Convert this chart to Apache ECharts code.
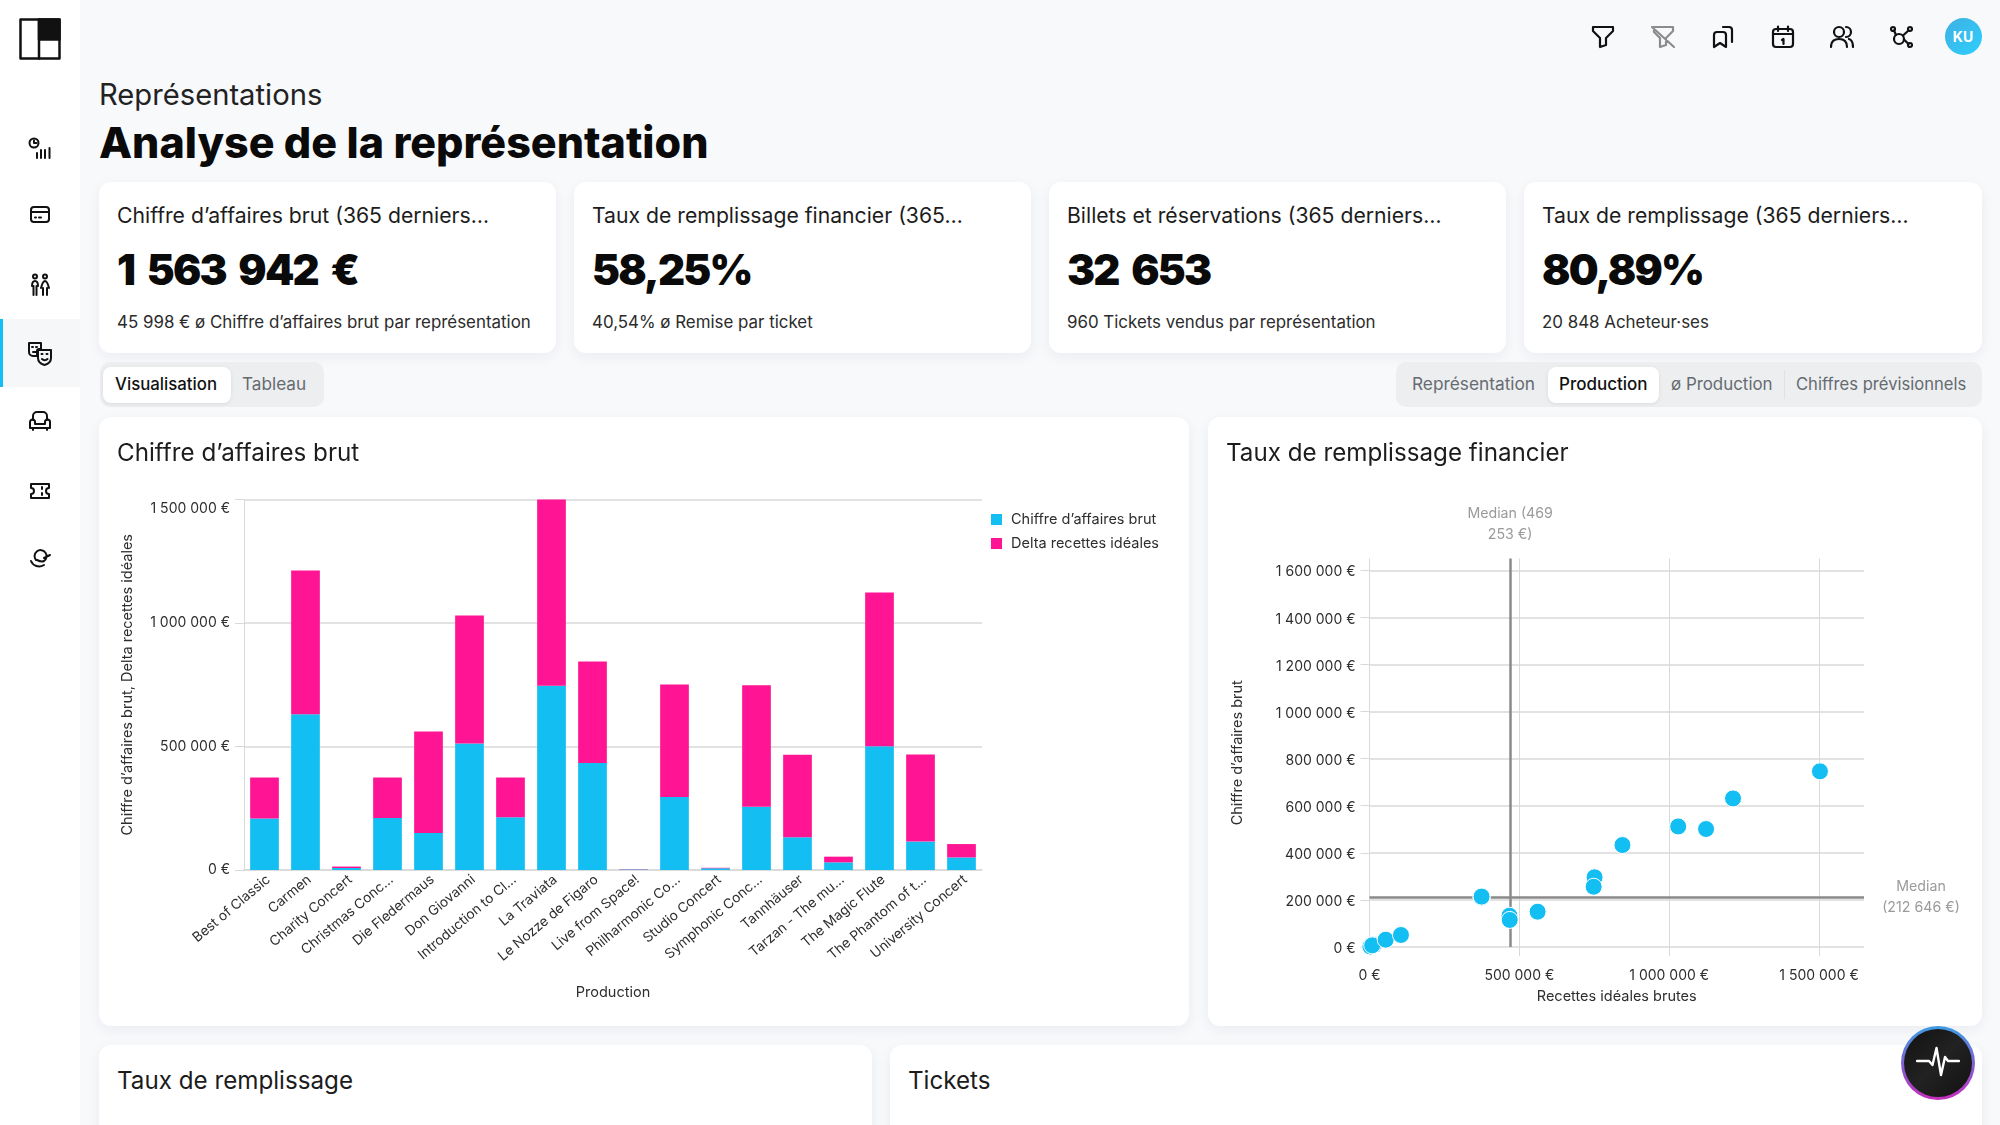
<![CDATA[<!DOCTYPE html>
<html lang="fr"><head><meta charset="utf-8"><title>Analyse de la représentation</title>
<script src="https://cdn.jsdelivr.net/npm/echarts@6/dist/echarts.min.js"></script>
<style>
html,body{margin:0;padding:0;width:2000px;height:1125px;overflow:hidden;background:#f8f9fb;font-family:Inter,sans-serif;color:#111}
.a{position:absolute;white-space:nowrap}
.card{position:absolute;background:#fff;border-radius:12px;box-shadow:0 4px 14px rgba(30,40,60,.06)}
.ct{position:absolute;font-size:21.2px;line-height:30px;color:#1c1c1c;white-space:nowrap}
.kv{position:absolute;font-size:42px;font-weight:900;letter-spacing:-1.8px;word-spacing:6px;line-height:56px;color:#0a0a0a;white-space:nowrap}
.ks{position:absolute;font-size:16.9px;line-height:24px;color:#2b2b2b;white-space:nowrap}
.pill{position:absolute;background:#eceef0;border-radius:10px;top:362px;height:45px}
.on{position:absolute;background:#fff;border-radius:8px;top:367px;height:36px;box-shadow:0 1px 4px rgba(0,0,0,.08)}
.t{position:absolute;top:372px;font-size:16.8px;line-height:24px;color:#666b70;white-space:nowrap}
.t.s{color:#111;font-weight:500}
.h2{position:absolute;font-size:24.2px;line-height:34px;color:#1c1c1c;white-space:nowrap}
svg.i{position:absolute;fill:none;stroke:#111;stroke-width:2;stroke-linecap:round;stroke-linejoin:round}
</style></head><body>
<div class="a" style="left:0;top:0;width:80px;height:1125px;background:#fff"></div>
<div class="a" style="left:0;top:319px;width:80px;height:68px;background:#f6f7f9"></div>
<div class="a" style="left:0;top:319px;width:3px;height:68px;background:#13bef2"></div>
<svg class="i" style="left:19px;top:18px;stroke-width:2.5" width="42" height="42" viewBox="0 0 42 42"><rect x="1.5" y="1.5" width="39" height="39" fill="#fff"/><rect x="20" y="1.5" width="20.5" height="20" fill="#111"/><path d="M20 1.5V40.5"/></svg>
<svg class="i" style="left:28px;top:137px" width="24" height="24" viewBox="0 0 24 24"><circle cx="6" cy="6" r="4.5"/><path d="M6 3.5V6H8.5M9 21v-5M13 21v-8M17 21v-8M21.500 21V11" /></svg>
<svg class="i" style="left:28px;top:203px" width="24" height="24" viewBox="0 0 24 24"><rect x="3" y="4" width="18" height="15" rx="3"/><path d="M3 9H21M7 14.500h1M11 14.500h2"/></svg>
<svg class="i" style="left:28px;top:273px" width="24" height="24" viewBox="0 0 24 24"><circle cx="7" cy="3.500" r="2"/><circle cx="17" cy="3.500" r="2"/><path d="M4 13c0-3 1-5 3-5s3 2 3 5M5.500 13v9M8.500 13v9M13 15c1-4 2-7 4-7s3 3 4 7M15 15v7M19 15v7"/></svg>
<svg class="i" style="left:27px;top:340px" width="26" height="26" viewBox="0 0 26 26"><path d="M2 3h12v6h-2a2 2 0 0 0-2 2v5H6a4 4 0 0 1-4-4z"/><path d="M11 10h13v8c0 4-3 6-6.500 7C14 24 11 22 11 18z"/><path d="M5 7h1M9 7h1M6 12h3M14.500 14h1M19.500 14h1M15 19c1.500 1.500 4 1.500 5.500 0"/></svg>
<svg class="i" style="left:28px;top:409px" width="24" height="24" viewBox="0 0 24 24"><path d="M5 11V7a4 4 0 0 1 4-4h6a4 4 0 0 1 4 4v4"/><path d="M2 13a2.500 2.500 0 0 1 5 0v2h10v-2a2.500 2.500 0 0 1 5 0v6H2zM5 19v2M19 19v2"/></svg>
<svg class="i" style="left:28px;top:479px" width="24" height="24" viewBox="0 0 24 24"><path d="M3 5h18v4a3 3 0 0 0 0 6v4H3v-4a3 3 0 0 0 0-6zM14 8v2M14 14v2"/></svg>
<svg class="i" style="left:28px;top:547px" width="24" height="24" viewBox="0 0 24 24"><path d="M3 14c2 5 8 7 13 4M8 13a6 6 0 1 1 8 1c-2 1-5 0-7-1M16 11l6-3"/></svg>

<svg class="i" style="left:1591px;top:25px;stroke-width:2.200" width="24" height="24" viewBox="0 0 24 24"><path d="M2 2H22V6L15 13V20L9 22V13L2 6z"/></svg>
<svg class="i" style="left:1651px;top:25px;stroke:#8c8c8c;stroke-width:2.200" width="24" height="24" viewBox="0 0 24 24"><path d="M3 2H22V6L15 13V20L9 22V13L3 7zM1 2L23 22"/></svg>
<svg class="i" style="left:1711px;top:25px;stroke-width:2.200" width="24" height="24" viewBox="0 0 24 24"><path d="M3 10a3 3 0 0 1 3-3h6a3 3 0 0 1 3 3v12l-6-4-6 4zM12 2h6a3 3 0 0 1 3 3v12"/></svg>
<svg class="i" style="left:1771px;top:25px;stroke-width:2.200" width="24" height="24" viewBox="0 0 24 24"><rect x="2" y="4" width="20" height="18" rx="3"/><path d="M2 9H22M7 1.500V6M17 1.500V6M11 15l1.500-1v5"/></svg>
<svg class="i" style="left:1830px;top:25px;stroke-width:2.200" width="24" height="24" viewBox="0 0 24 24"><circle cx="9" cy="7" r="5"/><path d="M1 22c0-5 3-8 8-8s8 3 8 8M16 2a5 5 0 0 1 0 10M19 14c3 1 4 4 4 8"/></svg>
<svg class="i" style="left:1889px;top:25px;stroke-width:2.200" width="24" height="24" viewBox="0 0 24 24"><circle cx="10" cy="14" r="5"/><circle cx="4" cy="4" r="2"/><circle cx="21" cy="4" r="2"/><circle cx="21" cy="20" r="2"/><path d="M5 5.500L7 10M19.500 5.500L14 10.500M15 14.500L19.500 19"/></svg>
<div class="a" style="left:1944.500px;top:17.500px;width:37px;height:37px;border-radius:50%;background:linear-gradient(135deg,#3fb0e3,#2dcffc);color:#fff;font-size:14px;font-weight:700;line-height:37px;text-align:center">KU</div>

<div class="a" style="left:99px;top:75px;font-size:29.2px;line-height:40px;color:#222">Représentations</div>
<div class="a" style="left:99px;top:115px;font-size:43px;line-height:54px;font-weight:800;color:#0a0a0a">Analyse de la représentation</div>

<div class="card" style="left:99px;top:182px;width:457px;height:171px"></div>
<div class="ct" style="left:117px;top:199.500px">Chiffre d’affaires brut (365 derniers…</div>
<div class="kv" style="left:117px;top:242px">1 563 942 €</div>
<div class="ks" style="left:117px;top:309.500px">45 998 € ø Chiffre d’affaires brut par représentation</div>
<div class="card" style="left:574px;top:182px;width:457px;height:171px"></div>
<div class="ct" style="left:592px;top:199.500px">Taux de remplissage financier (365…</div>
<div class="kv" style="left:592px;top:242px">58,25%</div>
<div class="ks" style="left:592px;top:309.500px">40,54% ø Remise par ticket</div>
<div class="card" style="left:1049px;top:182px;width:457px;height:171px"></div>
<div class="ct" style="left:1067px;top:199.500px">Billets et réservations (365 derniers…</div>
<div class="kv" style="left:1067px;top:242px">32 653</div>
<div class="ks" style="left:1067px;top:309.500px">960 Tickets vendus par représentation</div>
<div class="card" style="left:1524px;top:182px;width:458px;height:171px"></div>
<div class="ct" style="left:1542px;top:199.500px">Taux de remplissage (365 derniers…</div>
<div class="kv" style="left:1542px;top:242px">80,89%</div>
<div class="ks" style="left:1542px;top:309.500px">20 848 Acheteur·ses</div>

<div class="pill" style="left:100px;width:224px"></div>
<div class="on" style="left:103px;width:128px"></div>
<div class="t s" style="left:115px">Visualisation</div>
<div class="t" style="left:242px;font-size:17.2px">Tableau</div>
<div class="pill" style="left:1396px;width:586px"></div>
<div class="on" style="left:1548px;width:111px"></div>
<div class="t" style="left:1412px;font-size:17.3px">Représentation</div>
<div class="t s" style="left:1559px;font-size:17px">Production</div>
<div class="t" style="left:1671px;font-size:16.9px">ø Production</div>
<div class="a" style="left:1784px;top:370px;width:1px;height:29px;background:#dfe1e4"></div>
<div class="t" style="left:1796px;font-size:16.6px">Chiffres prévisionnels</div>

<div class="card" style="left:99px;top:417px;width:1090px;height:609px"></div>
<div class="card" style="left:1208px;top:417px;width:774px;height:609px"></div>
<div id="chartA" class="a" style="left:99px;top:417px;width:1090px;height:609px"></div>
<div id="chartB" class="a" style="left:1208px;top:417px;width:774px;height:609px"></div>
<div class="h2" style="left:117px;top:436px">Chiffre d’affaires brut</div>
<div class="h2" style="left:1226px;top:436px">Taux de remplissage financier</div>

<div class="card" style="left:99px;top:1045px;width:773px;height:120px"></div>
<div class="card" style="left:890px;top:1045px;width:1092px;height:120px"></div>
<div class="h2" style="left:117px;top:1064px">Taux de remplissage</div>
<div class="h2" style="left:908px;top:1064px">Tickets</div>

<div class="a" style="left:1901px;top:1026px;width:74px;height:74px;border-radius:50%;background:linear-gradient(180deg,#3a9ce4,#c62cbd)"></div>
<div class="a" style="left:1904px;top:1029px;width:68px;height:68px;border-radius:50%;background:linear-gradient(135deg,#111,#222 50%,#111)"></div>
<svg class="i" style="left:1916px;top:1046px;stroke:#fff;stroke-width:2.400" width="44" height="34" viewBox="0 0 44 34"><path d="M1 15H13L16.500 19 20.500 2 25 29 29 11 32 15H43"/></svg>

<script>
const categories = ["Best of Classic","Carmen","Charity Concert","Christmas Conc…","Die Fledermaus","Don Giovanni","Introduction to Cl…","La Traviata","Le Nozze de Figaro","Live from Space!","Philharmonic Co…","Studio Concert","Symphonic Conc…","Tannhäuser","Tarzan - The mu…","The Magic Flute","The Phantom of t…","University Concert"];
const grossRevenue = [209000,631000,8000,211000,150000,512000,214000,746000,433000,2000,296000,7000,256000,133000,31000,501000,115000,51000];
const idealRevenue = [374000,1213000,14000,374000,561000,1030000,374000,1503000,844000,3000,751000,9000,748000,467000,54000,1123000,468000,105000];
const idealDelta = [165000,582000,6000,163000,411000,518000,160000,757000,411000,1000,455000,2000,492000,334000,23000,622000,353000,54000];
const barYTicks = [0,500000,1000000,1500000];
const scatterXTicks = [0,500000,1000000,1500000];
const scatterYTicks = [0,200000,400000,600000,800000,1000000,1200000,1400000,1600000];
const medianX = 469253;
const medianY = 212646;

const FONT = 'Inter, sans-serif';
const BLUE = '#13bef2', PINK = '#ff1493', GRID = '#d9d9d9', TXT = '#2e2e2e';
const eur = v => String(v).replace(/\B(?=(\d{3})+$)/g,'\u00a0') + ' €';

const chartA = echarts.init(document.getElementById('chartA'), null, {renderer:'canvas'});
chartA.setOption({
  animation:false, textStyle:{fontFamily:FONT},
  legend:{orient:'vertical', left:887, top:90, itemWidth:11, itemHeight:11, itemGap:9, icon:'rect',
    textStyle:{fontFamily:FONT,fontSize:14.5,color:TXT,padding:[0,0,0,4]}},
  grid:{left:145, right:207, top:82.5, bottom:156},
  xAxis:{type:'category', data:categories, name:'Production', nameLocation:'middle', nameGap:115,
    nameTextStyle:{fontFamily:FONT,fontSize:14.5,color:TXT},
    axisLabel:{interval:0, rotate:40, margin:11, fontSize:13.7, color:TXT, fontFamily:FONT, padding:[0,-5,0,0]},
    axisTick:{show:false}, axisLine:{lineStyle:{color:GRID,width:1.5}}},
  yAxis:{type:'value', min:0, max:1500000, interval:500000, name:'Chiffre d’affaires brut, Delta recettes idéales',
    nameLocation:'middle', nameGap:109, nameRotate:90, nameTextStyle:{fontFamily:FONT,fontSize:14.5,color:TXT},
    axisLabel:{formatter:eur, margin:14, fontSize:14, color:TXT, fontFamily:FONT, verticalAlignMaxLabel:'top', padding:[2,0,0,0], customValues:barYTicks},
    axisTick:{show:true,length:9,lineStyle:{color:GRID}}, axisLine:{show:true,lineStyle:{color:GRID,width:1}},
    splitLine:{show:true,lineStyle:{color:GRID,width:1.5}}},
  series:[
    {name:'Chiffre d’affaires brut', type:'bar', stack:'t', barWidth:'70%', data:grossRevenue, itemStyle:{color:BLUE}},
    {name:'Delta recettes idéales', type:'bar', stack:'t', barWidth:'70%', data:idealDelta, itemStyle:{color:PINK}}
  ]
});

const chartB = echarts.init(document.getElementById('chartB'), null, {renderer:'canvas'});
const points = idealRevenue.map((x,i)=>[x,grossRevenue[i]]);
chartB.setOption({
  animation:false, textStyle:{fontFamily:FONT},
  grid:{left:161.5, right:118, top:141.500, bottom:79},
  xAxis:{type:'value', min:0, max:1650000, name:'Recettes idéales brutes', nameLocation:'middle', nameGap:42,
    nameTextStyle:{fontFamily:FONT,fontSize:14.5,color:TXT},
    axisLabel:{formatter:eur, margin:22, fontSize:14, color:TXT, fontFamily:FONT, customValues:scatterXTicks},
    axisTick:{show:true,length:9,lineStyle:{color:GRID},customValues:scatterXTicks}, axisLine:{show:false},
    splitLine:{show:true,lineStyle:{color:GRID,width:1}}},
  yAxis:{type:'value', min:0, max:1650000, name:'Chiffre d’affaires brut', nameLocation:'middle', nameGap:124, nameRotate:90,
    nameTextStyle:{fontFamily:FONT,fontSize:14.5,color:TXT},
    axisLabel:{formatter:eur, margin:14, fontSize:14, color:TXT, fontFamily:FONT, verticalAlign:'top', padding:[-5,0,0,0], customValues:scatterYTicks},
    axisTick:{show:true,length:9,lineStyle:{color:GRID},customValues:scatterYTicks}, axisLine:{show:false},
    splitLine:{show:true,lineStyle:{color:GRID,width:1.5}}},
  series:[{type:'scatter', data:points, symbolSize:17, clip:true, z:3,
    itemStyle:{color:BLUE,opacity:1,borderColor:'#fff',borderWidth:1},
    markLine:{silent:true, symbol:'none', z:1, animation:false,
      lineStyle:{color:'#8a8a8a',width:2.5,type:'solid'},
      data:[
        {xAxis:medianX, label:{formatter:'Median (469\n253 €)', position:'end', distance:13, align:'center', color:'#9a9a9a', fontSize:14.2, lineHeight:21, fontFamily:FONT}},
        {yAxis:medianY, label:{formatter:'Median\n(212 646 €)', position:'end', distance:57, align:'center', color:'#9a9a9a', fontSize:14.2, lineHeight:21, padding:[3,0,0,0], fontFamily:FONT}}
      ]}
  }]
});
</script>
</body></html>]]>
